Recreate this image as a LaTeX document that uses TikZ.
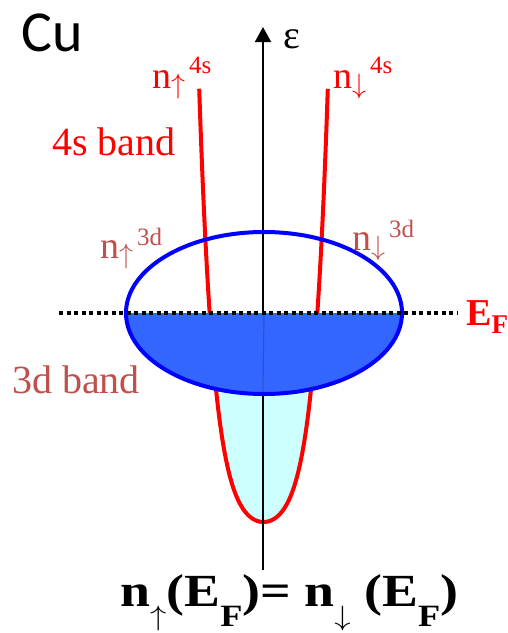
\documentclass[tikz,border=0pt]{standalone}
\usepackage{graphicx}
\usepackage{fontspec}
\setmainfont{Liberation Serif}
\newfontfamily\cufont{Carlito}
\usetikzlibrary{arrows.meta}
\definecolor{sred}{RGB}{255,0,0}
\definecolor{dred}{RGB}{192,80,77}
\definecolor{dblue}{RGB}{0,0,255}
\definecolor{dfill}{RGB}{51,102,255}
\definecolor{sfill}{RGB}{204,255,255}
\newcommand{\fs}[1]{\fontsize{#1}{#1}\selectfont}
\newcommand{\sarrow}[1]{\scalebox{2.8}{\fontsize{10}{10}\selectfont$#1$}}
\newcommand{\nspin}[3]{n\raisebox{-5pt}{\sarrow{#1}}\hspace{4pt}\raisebox{#3}{\fs{25}#2}}
\newcommand{\eqspin}[1]{n\raisebox{-19pt}{\sarrow{#1}}}
\newcommand{\eqfermi}{(E\raisebox{-20pt}{\fs{31}F})}
\tikzset{
    txtlbl/.style={inner sep=0pt, anchor=base west, text=#1},
    sband/.style={draw=sred, line width=4pt},
    dband/.style={draw=dblue, line width=4pt},
    eaxis/.style={-{Triangle[length=15pt, width=16pt]}, line width=2pt, black},
    fermi/.style={line width=4pt, dash pattern=on 4pt off 3.5pt, black}
}

\begin{document}
\begin{tikzpicture}[x=1pt, y=-1pt]
\useasboundingbox (0,0) rectangle (508,633);

% filled s states below E_F
\begin{scope}
  \clip (0,313) rectangle (508,633);
  \fill[sfill] plot[domain=-64.3:64.3, samples=121, smooth] ({263.5+\x},{522-12*(cosh(\x/14.93)-1)}) -- cycle;
\end{scope}

% 4s band
\draw[sband] plot[domain=-64.3:64.3, samples=121, smooth] ({263.5+\x},{522-12*(cosh(\x/14.93)-1)});

% energy axis
\coordinate (ebot) at (263,570);
\coordinate (etop) at (263,27);
\draw[eaxis] (ebot) -- (etop);

% 3d band
\coordinate (dmid) at (264,313);
\coordinate (dlow) at (263,395);
\begin{scope}
  \clip (0,313) rectangle (508,633);
  \fill[dfill] (dmid) ellipse [x radius=138pt, y radius=81pt];
\end{scope}
\draw[line width=1pt, black, opacity=0.2] (dmid) -- (dlow);
\draw[dband] (dmid) ellipse [x radius=138pt, y radius=81pt];

% Fermi level
\coordinate (efl) at (59,313);
\coordinate (efr) at (458,313);
\draw[fermi] (efl) -- (efr);

% labels
\node[txtlbl=black, font=\cufont\fs{58}] (cu) at (21,51) {Cu};
\node[txtlbl=black, font=\fs{40}] (eps) at (283,48) {ε};
\node[txtlbl=sred, font=\fs{38}] (nup4s) at (152,88) {\nspin{\uparrow}{4s}{15pt}};
\node[txtlbl=sred, font=\fs{38}] (ndn4s) at (333,88) {\nspin{\downarrow}{4s}{15pt}};
\node[txtlbl=sred, font=\fs{40}] (sband) at (52,155) {4s band};
\node[txtlbl=dred, font=\fs{38}] (nup3d) at (100,258) {\nspin{\uparrow}{3d}{13pt}};
\node[txtlbl=dred, font=\fs{38}] (ndn3d) at (352,250) {\nspin{\downarrow}{3d}{13pt}};
\node[txtlbl=dred, font=\fs{40}] (dband) at (12,393) {3d band};
\node[txtlbl=sred, font=\bfseries\fs{38}] (ef) at (466,325) {E\raisebox{-8pt}{\fs{27}F}};
\node[txtlbl=black, font=\bfseries\fs{46}] (eq) at (120,606)
  {\scalebox{1.17}[1]{\eqspin{\uparrow}\eqfermi= \eqspin{\downarrow} \eqfermi}};

\end{tikzpicture}
\end{document}
